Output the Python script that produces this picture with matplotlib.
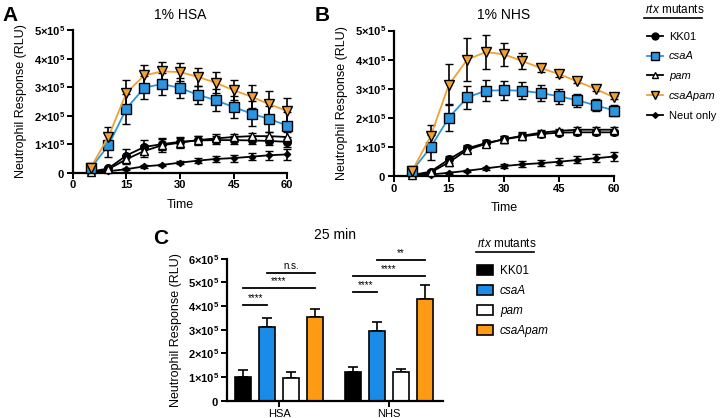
import matplotlib

matplotlib.use("Agg")
import matplotlib.pyplot as plt  # noqa: E402
from matplotlib.lines import Line2D  # noqa: E402
from matplotlib.patches import Patch  # noqa: E402

plt.rcParams["font.family"] = ["Liberation Sans", "DejaVu Sans"]
plt.rcParams["mathtext.fontset"] = "custom"
plt.rcParams["mathtext.rm"] = "Liberation Sans"
plt.rcParams["mathtext.it"] = "Liberation Sans:italic"
plt.rcParams["mathtext.bf"] = "Liberation Sans:bold"

# time course (min), values in units of 1e5 RLU
time = [5, 10, 15, 20, 25, 30, 35, 40, 45, 50, 55, 60]

hsa_kk01 = [0.03, 0.15, 0.60, 0.90, 1.00, 1.08, 1.13, 1.14, 1.14, 1.13, 1.11, 1.08]
hsa_kk01_err = [0.02, 0.05, 0.22, 0.25, 0.22, 0.18, 0.15, 0.15, 0.14, 0.14, 0.15, 0.18]
hsa_csaA = [0.15, 0.96, 2.24, 2.98, 3.11, 2.97, 2.73, 2.54, 2.30, 2.07, 1.88, 1.65]
hsa_csaA_err = [0.05, 0.41, 0.52, 0.40, 0.38, 0.35, 0.32, 0.38, 0.40, 0.44, 0.46, 0.48]
hsa_pam = [0.02, 0.12, 0.47, 0.76, 0.96, 1.05, 1.14, 1.20, 1.25, 1.28, 1.28, 1.25]
hsa_pam_err = [0.02, 0.05, 0.15, 0.2, 0.22, 0.18, 0.15, 0.14, 0.12, 0.12, 0.14, 0.16]
hsa_csaApam = [0.17, 1.26, 2.80, 3.41, 3.55, 3.53, 3.36, 3.15, 2.89, 2.66, 2.40, 2.16]
hsa_csaApam_err = [0.05, 0.35, 0.44, 0.35, 0.33, 0.31, 0.31, 0.37, 0.35, 0.41, 0.45, 0.47]
hsa_neut = [0.01, 0.05, 0.12, 0.22, 0.27, 0.35, 0.42, 0.48, 0.51, 0.56, 0.61, 0.64]
hsa_neut_err = [0.01, 0.02, 0.03, 0.04, 0.05, 0.06, 0.08, 0.1, 0.12, 0.13, 0.15, 0.18]

nhs_kk01 = [0.03, 0.15, 0.57, 0.95, 1.13, 1.26, 1.36, 1.44, 1.49, 1.50, 1.50, 1.50]
nhs_kk01_err = [0.02, 0.05, 0.12, 0.12, 0.12, 0.12, 0.12, 0.1, 0.08, 0.08, 0.08, 0.08]
nhs_csaA = [0.18, 0.98, 2.01, 2.70, 2.93, 2.95, 2.93, 2.85, 2.74, 2.60, 2.43, 2.25]
nhs_csaA_err = [0.05, 0.43, 0.47, 0.40, 0.36, 0.33, 0.30, 0.28, 0.25, 0.23, 0.20, 0.20]
nhs_pam = [0.02, 0.12, 0.47, 0.90, 1.10, 1.27, 1.38, 1.49, 1.55, 1.59, 1.59, 1.59]
nhs_pam_err = [0.02, 0.05, 0.12, 0.12, 0.12, 0.12, 0.12, 0.1, 0.08, 0.08, 0.08, 0.08]
nhs_csaApam = [0.18, 1.36, 3.14, 4.00, 4.26, 4.18, 3.95, 3.71, 3.50, 3.25, 2.99, 2.70]
nhs_csaApam_err = [0.05, 0.40, 0.70, 0.75, 0.60, 0.40, 0.27, 0.12, 0.10, 0.06, 0.06, 0.06]
nhs_neut = [0.01, 0.05, 0.11, 0.18, 0.26, 0.34, 0.40, 0.44, 0.49, 0.55, 0.61, 0.67]
nhs_neut_err = [0.01, 0.02, 0.03, 0.04, 0.05, 0.06, 0.1, 0.1, 0.12, 0.12, 0.13, 0.15]

# 25 min bars
groups = ["HSA", "NHS"]
strains = ["KK01", "csaA", "pam", "csaApam"]
bar_vals = {"HSA": [0.99, 3.11, 0.96, 3.55], "NHS": [1.20, 2.96, 1.21, 4.28]}
bar_errs = {"HSA": [0.31, 0.37, 0.24, 0.34], "NHS": [0.23, 0.38, 0.15, 0.61]}
# significance brackets: group, strain i, strain j, height (1e5), label
sig = [
    ("HSA", 0, 1, 4.06, "****"),
    ("HSA", 0, 3, 4.75, "****"),
    ("HSA", 1, 3, 5.41, "n.s."),
    ("NHS", 0, 1, 4.58, "****"),
    ("NHS", 0, 3, 5.28, "****"),
    ("NHS", 1, 3, 5.94, "**"),
]

BLUE = "#2b96e0"
ORANGE = "#f2a033"
BAR_BLUE = "#1a8ce8"
BAR_ORANGE = "#ff9a14"

styles = {
    "KK01": dict(marker="o", color="black", mfc="black", mec="black", ms=5.5),
    "csaA": dict(marker="s", color=BLUE, mfc=BLUE, mec="black", ms=7),
    "pam": dict(marker="^", color="black", mfc="white", mec="black", ms=5.5),
    "csaApam": dict(marker="v", color=ORANGE, mfc=ORANGE, mec="black", ms=6.5),
    "Neut only": dict(marker="D", color="black", mfc="black", mec="black", ms=3.2),
}


def sci_label(v):
    if v == 0:
        return r"$\mathbf{0}$"
    return r"$\mathbf{%d{\times}10^{5}}$" % v


def prism_axes(ax):
    for s in ["top", "right"]:
        ax.spines[s].set_visible(False)
    for s in ["left", "bottom"]:
        ax.spines[s].set_linewidth(1.6)
    ax.tick_params(width=1.4, length=4, labelsize=8, pad=1.5)
    for t in ax.get_xticklabels():
        t.set_fontweight("bold")


def timecourse(ax, data, title):
    for name, (vals, errs) in data.items():
        st = styles[name]
        ax.errorbar(time, vals, yerr=errs, color=st["color"], lw=1.3,
                    marker=st["marker"], ms=st["ms"], mfc=st["mfc"], mec=st["mec"],
                    mew=1.0, ecolor="black", elinewidth=1.2, capsize=3.2, capthick=1.2,
                    zorder=3, clip_on=False)
    ax.set_xlim(0, 60)
    ax.set_ylim(0, 5)
    ax.set_xticks([0, 15, 30, 45, 60])
    ax.set_yticks(range(6))
    ax.set_yticklabels([sci_label(v) for v in range(6)])
    ax.set_xlabel("Time", fontsize=9, labelpad=6)
    ax.set_ylabel("Neutrophil Response (RLU)", fontsize=9, labelpad=5)
    ax.set_title(title, fontsize=10, pad=8)
    prism_axes(ax)


fig = plt.figure(figsize=(7.2, 4.18), dpi=100)
axA = fig.add_axes([0.101, 0.587, 0.298, 0.341])
axB = fig.add_axes([0.547, 0.579, 0.306, 0.348])
axC = fig.add_axes([0.315, 0.041, 0.300, 0.340])

timecourse(axA, {
    "Neut only": (hsa_neut, hsa_neut_err),
    "KK01": (hsa_kk01, hsa_kk01_err),
    "pam": (hsa_pam, hsa_pam_err),
    "csaA": (hsa_csaA, hsa_csaA_err),
    "csaApam": (hsa_csaApam, hsa_csaApam_err),
}, "1% HSA")
timecourse(axB, {
    "Neut only": (nhs_neut, nhs_neut_err),
    "KK01": (nhs_kk01, nhs_kk01_err),
    "pam": (nhs_pam, nhs_pam_err),
    "csaA": (nhs_csaA, nhs_csaA_err),
    "csaApam": (nhs_csaApam, nhs_csaApam_err),
}, "1% NHS")

# bar panel
bar_colors = ["black", BAR_BLUE, "white", BAR_ORANGE]
spacing = 0.216
width = 0.145
offsets = [(i - 1.5) * spacing for i in range(4)]
for gi, g in enumerate(groups):
    for si in range(4):
        x = gi + offsets[si]
        axC.bar(x, bar_vals[g][si], width=width, color=bar_colors[si],
                edgecolor="black", linewidth=1.2, zorder=2)
        axC.errorbar(x, bar_vals[g][si], yerr=[[0], [bar_errs[g][si]]], fmt="none",
                     ecolor="black", elinewidth=1.2, capsize=3.5, capthick=1.2, zorder=1)
for g, i, j, h, lab in sig:
    gi = groups.index(g)
    x1, x2 = gi + offsets[i], gi + offsets[j]
    axC.plot([x1, x2], [h, h], color="black", lw=1.3, clip_on=False)
    axC.text((x1 + x2) / 2, h + 0.08, lab, ha="center", va="bottom", fontsize=7)
axC.set_xlim(-0.475, 1.49)
axC.set_ylim(0, 6)
axC.set_xticks([0, 1])
axC.set_xticklabels(groups, fontsize=8.5)
axC.set_yticks(range(7))
axC.set_yticklabels([sci_label(v) for v in range(7)])
axC.set_ylabel("Neutrophil Response (RLU)", fontsize=9, labelpad=4)
axC.set_title("25 min", fontsize=10, pad=14)
prism_axes(axC)
for t in axC.get_xticklabels():
    t.set_fontweight("normal")

# panel letters
fig.text(0.003, 0.962, "A", fontsize=15, fontweight="bold", va="center")
fig.text(0.437, 0.962, "B", fontsize=15, fontweight="bold", va="center")
fig.text(0.213, 0.43, "C", fontsize=15, fontweight="bold", va="center")

# legend for time courses
order = ["KK01", "csaA", "pam", "csaApam", "Neut only"]
handles = []
for name in order:
    st = styles[name]
    handles.append(Line2D([], [], color=st["color"], lw=1.3, marker=st["marker"],
                          ms=st["ms"] * 0.9, mfc=st["mfc"], mec=st["mec"], mew=1.0))
leg1 = fig.legend(handles, order, loc="upper left", bbox_to_anchor=(0.893, 0.935),
                  frameon=False, fontsize=8, handlelength=1.4, handletextpad=0.55,
                  labelspacing=0.88, borderaxespad=0)
for t, name in zip(leg1.get_texts(), order):
    if name in ("csaA", "pam", "csaApam"):
        t.set_style("italic")
fig.text(0.896, 0.978, r"$\it{rtx}$ mutants", fontsize=8.5, ha="left", va="center")
fig.add_artist(Line2D([0.895, 0.975], [0.958, 0.958], color="black", lw=1.2))

# legend for bars
handles2 = [Patch(facecolor=c, edgecolor="black", linewidth=1.2) for c in bar_colors]
leg2 = fig.legend(handles2, strains, loc="upper left", bbox_to_anchor=(0.656, 0.377),
                  frameon=False, fontsize=8.5, handlelength=1.35, handleheight=0.85,
                  handletextpad=0.6, labelspacing=0.68, borderaxespad=0)
for t, name in zip(leg2.get_texts(), strains):
    if name != "KK01":
        t.set_style("italic")
fig.text(0.662, 0.418, r"$\it{rtx}$ mutants", fontsize=8.5, ha="left", va="center")
fig.add_artist(Line2D([0.661, 0.742], [0.397, 0.397], color="black", lw=1.2))

fig.savefig("out.png", dpi=100)
plt.close(fig)
